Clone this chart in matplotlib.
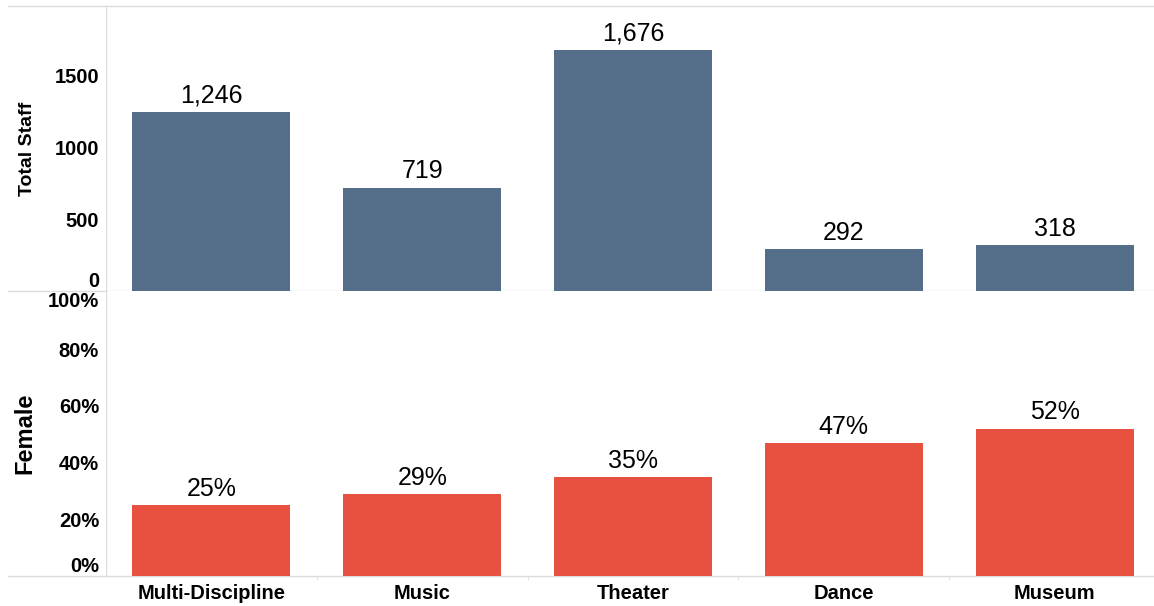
import matplotlib
matplotlib.use('Agg')
import matplotlib.pyplot as plt
import numpy as np

categories = ['Multi-Discipline', 'Music', 'Theater', 'Dance', 'Museum']
total_staff = [1246, 719, 1676, 292, 318]
female_share = [0.25, 0.29, 0.35, 0.47, 0.52]

staff_ticks = [0, 500, 1000, 1500]
female_ticks = [0, 0.2, 0.4, 0.6, 0.8, 1.0]

blue = '#546e8a'
red = '#e8503f'
grid = '#dcdcdc'
plain = ['Liberation Sans', 'DejaVu Sans']

fig = plt.figure(figsize=(11.54, 6.06), dpi=100)
W, H = 1154, 606
left, right = 106, 1160
ax1 = fig.add_axes([left / W, (H - 291) / H, (right - left) / W, 285 / H])
ax2 = fig.add_axes([left / W, (H - 576) / H, (right - left) / W, 285 / H])

x = np.arange(len(categories))
ext = -(left - 8) / (right - left)

for ax in (ax1, ax2):
    for s in ax.spines.values():
        s.set_visible(False)
    ax.set_xlim(-0.5, len(categories) - 0.5)
    ax.axvline(-0.5, color=grid, linewidth=1, zorder=0)
    ax.tick_params(axis='y', length=0, pad=5)
    ax.axhline(0, xmin=ext, xmax=1, color=grid, linewidth=1, clip_on=False, zorder=1)

# top panel
ax1.bar(x, total_staff, width=0.75, color=blue, zorder=2)
ax1.set_ylim(0, 1980)
ax1.axhline(1980, xmin=ext, xmax=1, color=grid, linewidth=1, clip_on=False)
ax1.set_yticks(staff_ticks)
ax1.set_yticklabels([str(t) for t in staff_ticks], fontsize=14.5, fontweight='bold', family=plain)
ax1.get_yticklabels()[0].set_va('bottom')
ax1.set_xticks([])
ax1.set_ylabel('Total Staff', fontsize=14, fontweight='bold', family=plain)
ax1.yaxis.set_label_coords(-0.066, 0.5)
for xi, v in zip(x, total_staff):
    ax1.annotate(f'{v:,}', (xi, v), xytext=(0, 3), textcoords='offset points',
                 ha='center', va='bottom', fontsize=18, family=plain)

# bottom panel
ax2.bar(x, female_share, width=0.75, color=red, zorder=2)
ax2.set_ylim(0, 1.005)
ax2.set_yticks(female_ticks)
ax2.set_yticklabels([f'{int(round(t * 100))}%' for t in female_ticks], fontsize=14.5,
                    fontweight='bold', family=plain)
ax2.get_yticklabels()[0].set_va('bottom')
ax2.get_yticklabels()[-1].set_va('top')
ax2.set_xticks(x)
ax2.set_xticklabels(categories, fontsize=14.5, fontweight='bold', family=plain)
ax2.tick_params(axis='x', length=0, pad=6)
ax2.set_xticks(x[:-1] + 0.5, minor=True)
ax2.tick_params(axis='x', which='minor', length=3, color=grid)
ax2.set_ylabel('Female', fontsize=17, fontweight='bold', family=plain)
ax2.yaxis.set_label_coords(-0.066, 0.5)
for xi, v in zip(x, female_share):
    ax2.annotate(f'{int(round(v * 100))}%', (xi, v), xytext=(0, 3), textcoords='offset points',
                 ha='center', va='bottom', fontsize=18, family=plain)

fig.savefig('out.png', dpi=100)
